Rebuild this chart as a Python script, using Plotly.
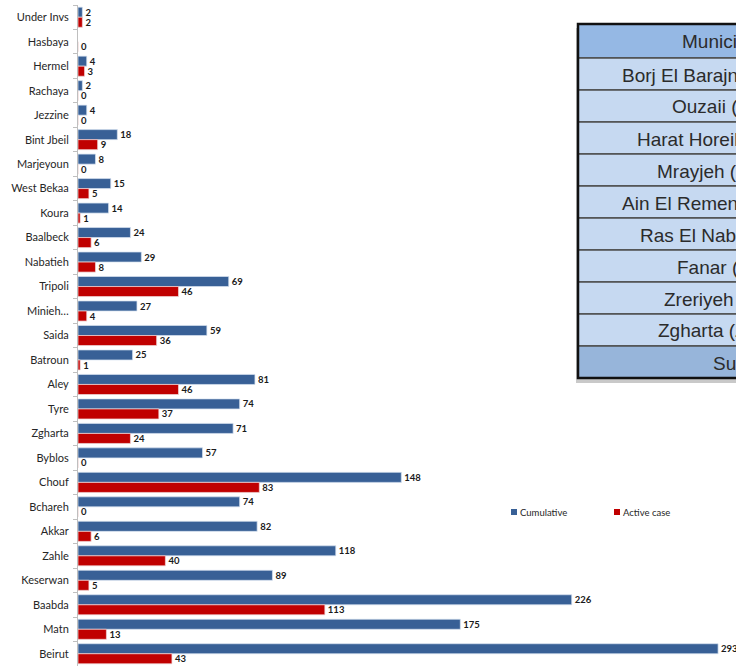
import plotly.graph_objects as go

# ── data ─────────────────────────────────────────────────────────────────────
districts = ["Under Invs", "Hasbaya", "Hermel", "Rachaya", "Jezzine", "Bint Jbeil",
             "Marjeyoun", "West Bekaa", "Koura", "Baalbeck", "Nabatieh", "Tripoli",
             "Minieh…", "Saida", "Batroun", "Aley", "Tyre", "Zgharta", "Byblos",
             "Chouf", "Bchareh", "Akkar", "Zahle", "Keserwan", "Baabda", "Matn", "Beirut"]
cumulative = [2, None, 4, 2, 4, 18, 8, 15, 14, 24, 29, 69, 27, 59, 25, 81, 74, 71, 57,
              148, 74, 82, 118, 89, 226, 175, 293]
active = [2, 0, 3, 0, 0, 9, 0, 5, 1, 6, 8, 46, 4, 36, 1, 46, 37, 24, 0,
          83, 0, 6, 40, 5, 113, 13, 43]

table_header = "Municipality"
municipalities = ["Borj El Barajneh (Baabda)", "Ouzaii (Beirut)", "Harat Horeik (Baabda)",
                  "Mrayjeh (Baabda)", "Ain El Remeneh (Baabda)", "Ras El Nabaa (Beirut)",
                  "Fanar (Matn)", "Zreriyeh (Saida)", "Zgharta (Zgharta)"]
table_total = "Sum"

BLUE = "#386096"
RED = "#C00000"
CHART_FONT = "Lato, Open Sans, sans-serif"
ARIAL = "Liberation Sans, Arial, sans-serif"

# plot area in pixels (used to place the decorative table / legend)
PL, PW, PT, PH = 78, 658, 5, 661


def px(x):
    return (x - PL) / PW


def py(y):
    return 1 - (y - PT) / PH


bar_style = dict(orientation="h", textposition="outside", cliponaxis=False,
                 constraintext="none",
                 textfont=dict(family=CHART_FONT, size=9.5, color="#1a1a1a", weight="bold"),
                 showlegend=False)

fig = go.Figure()
fig.add_trace(go.Bar(
    y=districts, x=cumulative, name="Cumulative", text=cumulative,
    marker=dict(color=BLUE, line=dict(color="rgba(215,226,240,0.9)", width=0.8)),
    **bar_style,
))
fig.add_trace(go.Bar(
    y=districts, x=active, name="Active case", text=active,
    marker=dict(color=RED, line=dict(color="rgba(240,215,215,0.9)", width=0.8)),
    **bar_style,
))

# ── table on the right (runs off the edge) ───────────────────────────────────
shapes, annots = [], []
tx0, tx1, ttop, head_h, row_h = 578, 980, 24, 34, 32
rows = [(table_header, "#95B8E4")] + [(m, "#C6D9F1") for m in municipalities] + [(table_total, "#97B5DA")]
bottom = ttop + head_h + row_h * (len(rows) - 1)

shapes.append(dict(type="rect", xref="paper", yref="paper", layer="above",
                   x0=px(tx0 - 2), x1=px(tx1 + 4), y0=py(ttop + 4), y1=py(bottom + 5),
                   fillcolor="#C9C9C9", line=dict(width=0)))
y = ttop
for i, (label, fill) in enumerate(rows):
    h = head_h if i == 0 else row_h
    shapes.append(dict(type="rect", xref="paper", yref="paper", layer="above",
                       x0=px(tx0), x1=px(tx1), y0=py(y), y1=py(y + h),
                       fillcolor=fill, line=dict(color="#4d4d4d", width=1.5)))
    annots.append(dict(xref="paper", yref="paper", x=px(732), y=py(y + h / 2 + 1),
                       text=label, showarrow=False, xanchor="center", yanchor="middle",
                       font=dict(family=ARIAL, size=19, color="#2b2b2b")))
    y += h
shapes.append(dict(type="rect", xref="paper", yref="paper", layer="above",
                   x0=px(tx0), x1=px(tx1), y0=py(ttop), y1=py(bottom),
                   fillcolor="rgba(0,0,0,0)", line=dict(color="#111111", width=2.5)))

# ── legend ───────────────────────────────────────────────────────────────────
for name, color, lx in [("Cumulative", BLUE, 511), ("Active case", RED, 614)]:
    shapes.append(dict(type="rect", xref="paper", yref="paper",
                       x0=px(lx), x1=px(lx + 6), y0=py(509), y1=py(515),
                       fillcolor=color, line=dict(width=0)))
    annots.append(dict(xref="paper", yref="paper", x=px(lx + 7), y=py(512),
                       text=name, showarrow=False, xanchor="left", yanchor="middle",
                       font=dict(family=CHART_FONT, size=9.5, color="#262626")))

fig.update_layout(
    width=736, height=666,
    margin=dict(l=PL, r=0, t=PT, b=0),
    plot_bgcolor="white", paper_bgcolor="white",
    barmode="group", bargap=0.18, bargroupgap=0,
    showlegend=False,
    shapes=shapes, annotations=annots,
    xaxis=dict(range=[0, 301.2], showgrid=False, zeroline=False,
               showticklabels=False, showline=False, fixedrange=True),
    yaxis=dict(type="category", autorange="reversed", showgrid=False, zeroline=False,
               showline=True, linecolor="#BFBFBF", linewidth=1,
               ticks="outside", tickson="boundaries", ticklen=4, tickcolor="#BFBFBF",
               ticklabelstandoff=6,
               tickfont=dict(family=CHART_FONT, size=11, color="#262626")),
)

# page body has a default 8px margin; drop it so the figure sits at the corner
fig.write_html("out.html", config={"displayModeBar": False},
               post_script="document.body.style.margin='0';")
